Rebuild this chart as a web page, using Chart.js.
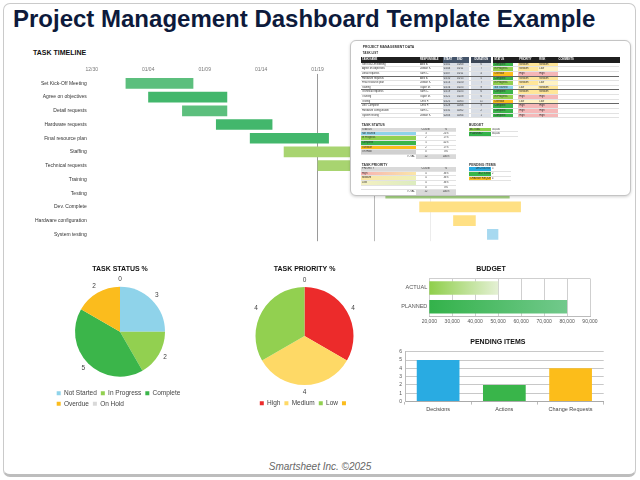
<!DOCTYPE html>
<html>
<head>
<meta charset="utf-8">
<script src="https://cdn.jsdelivr.net/npm/chart.js@4.4.1/dist/chart.umd.min.js"></script>
<style>
  html, body { margin: 0; padding: 0; width: 640px; height: 480px; overflow: hidden; background: #fff; font-family: "Liberation Sans", Arial, sans-serif; }
  .frame { position: absolute; left: 3px; top: 3px; width: 631px; height: 470px; border: 1px solid #cacaca; border-bottom: 3px solid #bdbdbd; border-radius: 7px; }
  .box { position: absolute; }
  #title { position: absolute; left: 13px; top: 7px; font: bold 24px/24px "Liberation Sans"; color: #0d1a3b; white-space: nowrap; }
  #tlTitle { position: absolute; left: 33px; top: 49px; font: bold 7px/8px "Liberation Sans"; color: #111; }
  #footer { position: absolute; left: 0; top: 460px; width: 640px; text-align: center; font: italic 10px/13px "Liberation Sans"; color: #666; }
  #inset { position: absolute; left: 350px; top: 40px; width: 279px; height: 154px; background: #fff; border: 1px solid #c4c4c4; border-radius: 6px; box-shadow: 0 1px 3px rgba(0,0,0,0.18); overflow: hidden; }
  #inset .blk { position: absolute; }
  #inset .h { font: bold 3.4px/4px "Liberation Sans"; color: #333; white-space: nowrap; }
  #inset .r { display: flex; height: 4.63px; border-bottom: 0.4px solid #e2e2e2; box-sizing: border-box; }
  #inset .r.grp { border-bottom: 0.7px solid #666; }
  #inset .r.hd { height: 6px; border: 0; }
  #inset .c { font-size: 2.6px; line-height: 4.2px; white-space: nowrap; overflow: hidden; padding: 0 1px; box-sizing: border-box; color: #333; flex: none; }
  #inset .hd .c { color: #fff; font-weight: bold; line-height: 6px; }
  #inset .rt { text-align: right; }
  #inset .ct { text-align: center; }
</style>
</head>
<body>
<div class="frame"></div>
<div id="title">Project Management Dashboard Template Example</div>
<div id="tlTitle">TASK TIMELINE</div>

<div class="box" style="left:30px; top:60px; width:580px; height:189.2px;"><canvas id="gantt"></canvas></div>
<div class="box" style="left:40px; top:260px; width:160px; height:158px;"><canvas id="statusPie"></canvas></div>
<div class="box" style="left:225px; top:260px; width:159px; height:158px;"><canvas id="priorityPie"></canvas></div>
<div class="box" style="left:392px; top:260px; width:213px; height:68px;"><canvas id="budget"></canvas></div>
<div class="box" style="left:392px; top:332px; width:223px; height:82px;"><canvas id="pending"></canvas></div>

<div id="inset"></div>
<div id="footer">Smartsheet Inc. ©2025</div>

<script>
// timeline, days counted from 12/30
const taskNames = ['Set Kick-Off Meeting', 'Agree on objectives', 'Detail requests', 'Hardware requests', 'Final resource plan', 'Staffing', 'Technical requests', 'Training', 'Testing', 'Dev. Complete', 'Hardware configuration', 'System testing'];
const taskStart = [3, 5, 8, 11, 14, 17, 20, 23, 26, 29, 32, 35];
const taskDays = [6, 7, 4, 5, 7, 9, 6, 6, 11, 9, 2, 1];
const taskColors = ['#5cbf7d', '#43b76c', '#5cbf7d', '#43b76c', '#43b76c', '#a8d470', '#a8d470', '#a8d470', '#a5d283', '#ffe084', '#ffe084', '#a7d9f0'];
const timelineTicks = ['12/30', '01/04', '01/09', '01/14', '01/19', '01/24', '01/29', '02/03', '02/08', '02/13'];
const timelineGrid = ['', '', '', '', '#9a9a9a', '#b8b8b8', '#ececec', '', '', ''];

const taskOwners = ['Alex B.', 'Jordan K.', 'Sam C.', 'Alex B.', 'Jordan K.', 'Taylor M.', 'Sam C.', 'Taylor M.', 'Chris P.', 'Chris P.', 'Sam C.', 'Jordan K.'];
const taskStatus = ['Complete', 'In Progress', 'Overdue', 'Complete', 'In Progress', 'Not Started', 'Complete', 'In Progress', 'Overdue', 'Complete', 'Complete', 'Complete'];
const taskPriority = ['Medium', 'Medium', 'High', 'Medium', 'Medium', 'Low', 'Medium', 'High', 'Low', 'High', 'High', 'High'];
const taskRisk = ['Medium', 'Low', 'High', 'Medium', 'Low', 'Medium', 'Medium', 'High', 'Low', 'High', 'High', 'High'];

const statusLabels = ['Not Started', 'In Progress', 'Complete', 'Overdue', 'On Hold'];
const statusCounts = [3, 2, 5, 2, 0];
const statusColors = ['#8fd3ea', '#92d050', '#3bb54a', '#fbbc1d', '#d9d9d9'];

const priorityLabels = ['High', 'Medium', 'Low', ''];
const priorityCounts = [4, 4, 4, 0];
const priorityColors = ['#ec2b2b', '#fed966', '#92d050', '#fbbc1d'];

const budgetLabels = ['ACTUAL', 'PLANNED'];
const budgetValues = [50000, 80000];
const budgetShades = [['#8fcf4b', '#e4f0d4'], ['#33b24a', '#72c98c']];

const pendingLabels = ['Decisions', 'Actions', 'Change Requests'];
const pendingValues = [5, 2, 4];
const pendingColors = ['#29abe2', '#39b54a', '#fcbd1a'];

Chart.defaults.font.family = '"Liberation Sans", Arial, sans-serif';
Chart.defaults.color = '#555';
Chart.defaults.animation = false;
Chart.defaults.plugins.tooltip.enabled = false;

const outsideLabels = {
  id: 'outsideLabels',
  afterDatasetsDraw(chart) {
    const ctx = chart.ctx;
    const meta = chart.getDatasetMeta(0);
    ctx.save();
    ctx.font = '6.5px "Liberation Sans"';
    ctx.fillStyle = '#444';
    ctx.textAlign = 'center';
    ctx.textBaseline = 'middle';
    meta.data.forEach((arc, i) => {
      const mid = (arc.startAngle + arc.endAngle) / 2;
      const r = arc.outerRadius + 7;
      ctx.fillText(chart.data.datasets[0].data[i], arc.x + Math.cos(mid) * r, arc.y + Math.sin(mid) * r);
    });
    ctx.restore();
  }
};

new Chart(document.getElementById('gantt'), {
  type: 'bar',
  data: {
    labels: taskNames,
    datasets: [{
      data: taskStart.map((s, i) => [s, s + taskDays[i]]),
      backgroundColor: taskColors,
      borderWidth: 0,
      barPercentage: 0.78,
      categoryPercentage: 1
    }]
  },
  options: {
    responsive: true,
    maintainAspectRatio: false,
    indexAxis: 'y',
    layout: { padding: { right: 10, bottom: 0 } },
    plugins: { legend: { display: false } },
    scales: {
      x: {
        position: 'top', min: 0, max: 45,
        ticks: { stepSize: 5, autoSkip: false, maxRotation: 0, font: { size: 5 }, color: '#777', padding: 1,
          callback: (v, i) => timelineTicks[i] },
        grid: { tickLength: 2.5, color: c => timelineGrid[c.index] || 'rgba(0,0,0,0)' },
        border: { display: false },
        afterFit: s => { s.height = 16.45; }
      },
      y: {
        ticks: { font: { size: 5 }, color: '#333', padding: 5 },
        grid: { display: false, drawTicks: false },
        border: { display: false },
        afterFit: s => { s.width = 61.7; }
      }
    }
  }
});

new Chart(document.getElementById('statusPie'), {
  type: 'pie',
  data: { labels: statusLabels, datasets: [{ data: statusCounts, backgroundColor: statusColors, borderWidth: 0, radius: 45 }] },
  options: {
    responsive: true,
    maintainAspectRatio: false,
    layout: { padding: { left: 12.7, right: 12.7, bottom: 0.95 } },
    plugins: {
      title: { display: true, text: 'TASK STATUS %', color: '#111', font: { size: 7, weight: 'bold' }, padding: { top: 5.1, bottom: 3.85 } },
      legend: { position: 'bottom', align: 'start', labels: { boxWidth: 4, boxHeight: 4, padding: 4, font: { size: 6.5 }, color: '#444' } }
    }
  },
  plugins: [outsideLabels]
});

new Chart(document.getElementById('priorityPie'), {
  type: 'pie',
  data: { labels: priorityLabels, datasets: [{ data: priorityCounts, backgroundColor: priorityColors, borderWidth: 0, radius: 49 }] },
  options: {
    responsive: true,
    maintainAspectRatio: false,
    layout: { padding: { bottom: 1.45 } },
    plugins: {
      title: { display: true, text: 'TASK PRIORITY %', color: '#111', font: { size: 7, weight: 'bold' }, padding: { top: 5.1, bottom: 2.45 } },
      legend: { position: 'bottom', labels: { boxWidth: 4, boxHeight: 4, padding: 4, font: { size: 6.5 }, color: '#444' } }
    }
  },
  plugins: [outsideLabels]
});

new Chart(document.getElementById('budget'), {
  type: 'bar',
  data: {
    labels: budgetLabels,
    datasets: [{
      data: budgetValues,
      borderWidth: 0,
      barPercentage: 0.72,
      categoryPercentage: 1,
      backgroundColor: c => {
        const area = c.chart.chartArea;
        if (!area) return budgetShades[c.dataIndex][0];
        const xs = c.chart.scales.x;
        const g = c.chart.ctx.createLinearGradient(xs.getPixelForValue(xs.min), 0, xs.getPixelForValue(budgetValues[c.dataIndex]), 0);
        g.addColorStop(0, budgetShades[c.dataIndex][0]);
        g.addColorStop(1, budgetShades[c.dataIndex][1]);
        return g;
      }
    }]
  },
  options: {
    responsive: true,
    maintainAspectRatio: false,
    indexAxis: 'y',
    layout: { padding: { right: 15 } },
    plugins: {
      legend: { display: false },
      title: { display: true, text: 'BUDGET', color: '#111', font: { size: 7, weight: 'bold' }, padding: { top: 5.1, bottom: 5 } }
    },
    scales: {
      x: {
        min: 20000, max: 90000,
        ticks: { stepSize: 10000, font: { size: 5 }, color: '#555', padding: 3, maxRotation: 0, callback: v => v.toLocaleString('en-US') },
        grid: { color: '#cfcfcf', drawTicks: false },
        border: { color: '#bbb' }
      },
      y: {
        ticks: { font: { size: 5.5 }, color: '#555', padding: 2 },
        grid: { drawTicks: false, color: c => c.index === 0 ? '#cfcfcf' : 'rgba(0,0,0,0)' },
        border: { display: false },
        afterFit: s => { s.width = 37.3; }
      }
    }
  }
});

new Chart(document.getElementById('pending'), {
  type: 'bar',
  data: { labels: pendingLabels, datasets: [{ data: pendingValues, backgroundColor: pendingColors, borderWidth: 0, barPercentage: 0.645, categoryPercentage: 1 }] },
  options: {
    responsive: true,
    maintainAspectRatio: false,
    layout: { padding: { right: 11.3 } },
    plugins: {
      legend: { display: false },
      title: { display: true, text: 'PENDING ITEMS', color: '#111', font: { size: 7, weight: 'bold' }, padding: { top: 5.5, bottom: 5.8 } }
    },
    scales: {
      x: {
        ticks: { font: { size: 5.5 }, color: '#444', padding: 1.4 },
        grid: { drawOnChartArea: false, tickLength: 3, color: '#bbb' },
        border: { color: '#aaa' }
      },
      y: {
        min: 0, max: 6,
        ticks: { stepSize: 1, autoSkip: false, font: { size: 5 }, color: '#555', padding: 3 },
        grid: { color: '#c8c8c8', drawTicks: false },
        border: { color: '#bbb' },
        afterFit: s => { s.width = 13; }
      }
    }
  }
});

// spreadsheet snapshot laid over the timeline
(function buildInset() {
  const statusFill = {};
  statusLabels.forEach((l, i) => { statusFill[l] = statusColors[i]; });
  statusFill['On Hold'] = '#d0d0d0';
  const levelFill = { High: '#f5b7b7', Medium: '#ffe699', Low: '#fff3c4' };
  const day0 = new Date(2024, 11, 30);
  const fmt = d => { const t = new Date(day0.getTime() + d * 86400000); return String(t.getMonth() + 1).padStart(2, '0') + '/' + String(t.getDate()).padStart(2, '0'); };
  const cell = (text, w, bg, cls) => `<div class="c ${cls || ''}" style="width:${w}px;${bg ? 'background:' + bg + ';' : ''}">${text}</div>`;

  let html = '';
  html += '<div class="blk h" style="left:11.7px; top:4px;">PROJECT MANAGEMENT DATA</div>';
  html += '<div class="blk h" style="left:11.7px; top:9.5px; font-size:3px;">TASK LIST</div>';

  let t = '<div class="r hd">' + cell('TASK NAME', 58, '#1f1f1f') + cell('RESPONSIBLE', 23.7, '#1f1f1f') +
    cell('START', 13.3, '#44546a') + cell('END', 13.3, '#44546a') + cell('', 1.7, '#fff') + cell('DURATION', 20, '#3b4657', 'ct') +
    cell('', 1.7, '#fff') + cell('STATUS', 20, '#1f1f1f') + cell('', 5, '#1f1f1f') + cell('PRIORITY', 20, '#1f1f1f') +
    cell('RISK', 19.3, '#1f1f1f') + cell('COMMENTS', 62, '#1f1f1f') + '</div>';
  taskNames.forEach((n, i) => {
    t += `<div class="r${i % 3 === 2 && i < 11 ? ' grp' : ''}">` + cell(n, 58) + cell(taskOwners[i], 23.7) +
      cell(fmt(taskStart[i]), 13.3, '#d9dee6') + cell(fmt(taskStart[i] + taskDays[i]), 13.3, '#d9dee6') + cell('', 1.7) +
      cell(taskDays[i], 20, '#d9dee6', 'ct') + cell('', 1.7) + cell(taskStatus[i], 20, statusFill[taskStatus[i]]) + cell('', 5) +
      cell(taskPriority[i], 20, levelFill[taskPriority[i]]) + cell(taskRisk[i], 19.3, levelFill[taskRisk[i]]) + cell('', 62) + '</div>';
  });
  html += `<div class="blk" style="left:10px; top:15.7px; width:258px;">${t}</div>`;

  const total = statusCounts.reduce((a, b) => a + b, 0);
  html += '<div class="blk h" style="left:10.7px; top:81.5px;">TASK STATUS</div>';
  let s = '<div class="r" style="height:4px;">' + cell('STATUS', 55, '#d9d9d9') + cell('COUNT', 20, '#d9d9d9', 'ct') + cell('%', 20, '#d9d9d9', 'ct') + '</div>';
  statusLabels.forEach((l, i) => {
    s += '<div class="r">' + cell(l, 55, i === 4 ? '#d0d0d0' : statusColors[i]) + cell(statusCounts[i], 20, '', 'ct') +
      cell(Math.round(statusCounts[i] / total * 100) + '%', 20, '', 'ct') + '</div>';
  });
  s += '<div class="r" style="border:0;">' + cell('TOTAL', 55, '', 'rt') + cell(total, 20, '#d9d9d9', 'ct') + cell('100%', 20, '#d9d9d9', 'ct') + '</div>';
  html += `<div class="blk" style="left:10px; top:86.7px; width:95px;">${s}</div>`;

  html += '<div class="blk h" style="left:118px; top:81.5px;">BUDGET</div>';
  let b = '';
  budgetLabels.forEach((l, i) => {
    b += '<div class="r">' + cell(l, 22, budgetShades[i][0]) + cell(budgetValues[i].toLocaleString('en-US'), 26.7) + '</div>';
  });
  html += `<div class="blk" style="left:118px; top:86.7px; width:48.7px;">${b}</div>`;

  const ptotal = priorityCounts.reduce((a, b) => a + b, 0);
  const pFill = ['linear-gradient(90deg,#f7b2b2,#fbe6a8)', 'linear-gradient(90deg,#fbe5a5,#eef0b8)', 'linear-gradient(90deg,#f4f0c2,#dcecbf)'];
  html += '<div class="blk h" style="left:10.7px; top:121.5px;">TASK PRIORITY</div>';
  let p = '<div class="r" style="height:4.3px;">' + cell('PRIORITY', 55, '#d9d9d9') + cell('COUNT', 20, '#d9d9d9', 'ct') + cell('%', 20, '#d9d9d9', 'ct') + '</div>';
  priorityLabels.slice(0, 3).forEach((l, i) => {
    p += '<div class="r">' + `<div class="c" style="width:55px;background:${pFill[i]}">${l}</div>` + cell(priorityCounts[i], 20, '', 'ct') +
      cell(Math.round(priorityCounts[i] / ptotal * 100) + '%', 20, '', 'ct') + '</div>';
  });
  p += '<div class="r">' + cell('', 55) + cell(priorityCounts[3], 20, '', 'ct') + cell('0%', 20, '', 'ct') + '</div>';
  p += '<div class="r" style="border:0;">' + cell('TOTAL', 55, '', 'rt') + cell(ptotal, 20, '#d9d9d9', 'ct') + cell('100%', 20, '#d9d9d9', 'ct') + '</div>';
  html += `<div class="blk" style="left:10px; top:126.4px; width:95px;">${p}</div>`;

  html += '<div class="blk h" style="left:118px; top:121.5px;">PENDING ITEMS</div>';
  let q = '';
  pendingLabels.forEach((l, i) => {
    q += '<div class="r">' + cell(l.toUpperCase(), 22, pendingColors[i], 'rt') + cell(pendingValues[i], 20) + '</div>';
  });
  html += `<div class="blk" style="left:118px; top:126.4px; width:42px;">${q}</div>`;

  document.getElementById('inset').innerHTML = html;
})();
</script>
</body>
</html>
